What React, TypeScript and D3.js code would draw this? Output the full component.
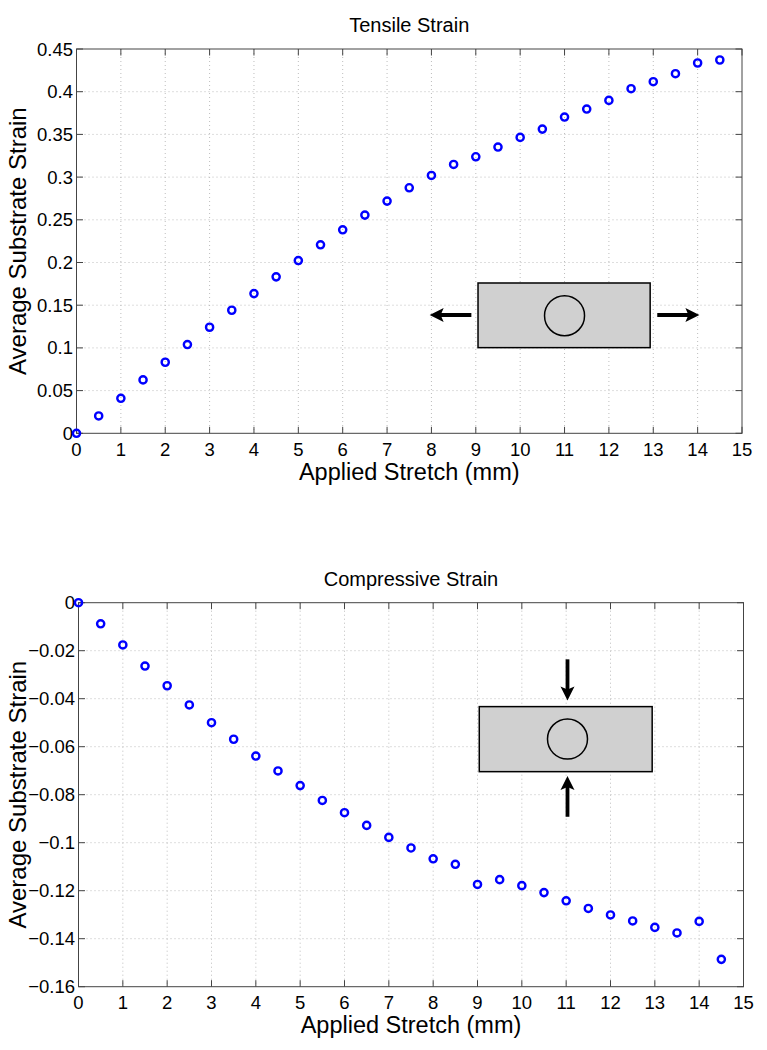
import React from 'react';
import * as d3 from 'd3';

const stretchMm = [0, 0.5, 1, 1.5, 2, 2.5, 3, 3.5, 4, 4.5, 5, 5.5, 6, 6.5, 7, 7.5, 8, 8.5, 9, 9.5, 10, 10.5, 11, 11.5, 12, 12.5, 13, 13.5, 14, 14.5];
const tensileStrain = [0, 0.0203, 0.041, 0.0625, 0.0832, 0.1039, 0.1242, 0.1441, 0.1636, 0.1832, 0.2023, 0.2207, 0.2383, 0.2555, 0.2719, 0.2875, 0.3019, 0.3148, 0.3238, 0.3352, 0.3465, 0.3562, 0.3703, 0.3797, 0.3898, 0.4035, 0.4117, 0.4211, 0.4336, 0.4371];
const compressiveStrain = [0, -0.0088, -0.0176, -0.0264, -0.0346, -0.0426, -0.05, -0.0569, -0.0639, -0.0701, -0.0762, -0.0824, -0.0875, -0.0928, -0.0978, -0.1022, -0.1067, -0.109, -0.1174, -0.1154, -0.1179, -0.1208, -0.1242, -0.1274, -0.1301, -0.1326, -0.1353, -0.1376, -0.1328, -0.1486];

const xTicks = [0, 1, 2, 3, 4, 5, 6, 7, 8, 9, 10, 11, 12, 13, 14, 15];
const tensileTicks = [0, 0.05, 0.1, 0.15, 0.2, 0.25, 0.3, 0.35, 0.4, 0.45];
const tensileTickLabels = ['0', '0.05', '0.1', '0.15', '0.2', '0.25', '0.3', '0.35', '0.4', '0.45'];
const compressiveTicks = [0, -0.02, -0.04, -0.06, -0.08, -0.1, -0.12, -0.14, -0.16];
const compressiveTickLabels = ['0', '\u22120.02', '\u22120.04', '\u22120.06', '\u22120.08', '\u22120.1', '\u22120.12', '\u22120.14', '\u22120.16'];

const FONT = '"Liberation Sans", Arial, Helvetica, sans-serif';
const AXIS = '#444';
const GRID = '#bdbdbd';
const TICK = 6.5;

type Inset = {
  rect: [number, number, number, number]; // x0, x1, yTop, yBottom (data)
  circle: [number, number]; // cx, cy (data)
  arrows: [number, number, number, number][]; // from (x,y) to (x,y) in data
};

const tensileInset: Inset = {
  rect: [9.05, 12.93, 0.176, 0.1003],
  circle: [11, 0.1377],
  arrows: [
    [8.9, 0.1385, 7.96, 0.1385],
    [13.09, 0.1385, 14.04, 0.1385],
  ],
};

const compressiveInset: Inset = {
  rect: [9.04, 12.94, -0.0433, -0.0704],
  circle: [11.03, -0.0568],
  arrows: [
    [11.03, -0.0236, 11.03, -0.0408],
    [11.03, -0.0892, 11.03, -0.0722],
  ],
};

function Arrow({ x1, y1, x2, y2 }: { x1: number; y1: number; x2: number; y2: number }) {
  const ang = Math.atan2(y2 - y1, x2 - x1);
  const len = Math.hypot(x2 - x1, y2 - y1);
  const headL = 14;
  const headW = 7;
  const notch = 3;
  const pts = [
    [len, 0],
    [len - headL, -headW],
    [len - headL + notch, 0],
    [len - headL, headW],
  ];
  const deg = (ang * 180) / Math.PI;
  return (
    <g transform={`translate(${x1},${y1}) rotate(${deg})`}>
      <line x1={0} y1={0} x2={len - headL + notch + 1} y2={0} stroke="#000" strokeWidth={3.8} />
      <polygon points={pts.map((p) => p.join(',')).join(' ')} fill="#000" />
    </g>
  );
}

type PanelProps = {
  left: number;
  right: number;
  top: number;
  bottom: number;
  yDomain: [number, number];
  yTicks: number[];
  yTickLabels: string[];
  values: number[];
  title: string;
  inset: Inset;
};

function Panel({ left, right, top, bottom, yDomain, yTicks, yTickLabels, values, title, inset }: PanelProps) {
  const x = d3.scaleLinear().domain([0, 15]).range([left, right]);
  const y = d3.scaleLinear().domain(yDomain).range([bottom, top]);
  const midX = (left + right) / 2;
  const midY = (top + bottom) / 2;
  return (
    <g fontFamily={FONT} fill="#000">
      {/* grid */}
      {xTicks.slice(1, -1).map((t) => (
        <line key={'gx' + t} x1={x(t)} x2={x(t)} y1={top} y2={bottom} stroke={GRID} strokeWidth={1} strokeDasharray="1,3" />
      ))}
      {yTicks.slice(1, -1).map((t) => (
        <line key={'gy' + t} x1={left} x2={right} y1={y(t)} y2={y(t)} stroke={GRID} strokeWidth={1} strokeDasharray="1,3" />
      ))}
      {/* inset illustration */}
      <rect
        x={x(inset.rect[0])}
        y={y(inset.rect[2])}
        width={x(inset.rect[1]) - x(inset.rect[0])}
        height={y(inset.rect[3]) - y(inset.rect[2])}
        fill="#d0d0d0"
        stroke="#000"
        strokeWidth={1.5}
      />
      <circle cx={x(inset.circle[0])} cy={y(inset.circle[1])} r={20} fill="none" stroke="#000" strokeWidth={1.5} />
      {inset.arrows.map((a, i) => (
        <Arrow key={i} x1={x(a[0])} y1={y(a[1])} x2={x(a[2])} y2={y(a[3])} />
      ))}
      {/* box */}
      <rect x={left} y={top} width={right - left} height={bottom - top} fill="none" stroke={AXIS} strokeWidth={1} />
      {/* ticks */}
      {xTicks.map((t) => (
        <g key={'tx' + t}>
          <line x1={x(t)} x2={x(t)} y1={bottom} y2={bottom - TICK} stroke={AXIS} />
          <line x1={x(t)} x2={x(t)} y1={top} y2={top + TICK} stroke={AXIS} />
          <text x={x(t)} y={bottom + 22.5} textAnchor="middle" fontSize={18.5}>
            {t}
          </text>
        </g>
      ))}
      {yTicks.map((t, i) => (
        <g key={'ty' + t}>
          <line x1={left} x2={left + TICK} y1={y(t)} y2={y(t)} stroke={AXIS} />
          <line x1={right} x2={right - TICK} y1={y(t)} y2={y(t)} stroke={AXIS} />
          <text x={left - 3.5} y={y(t) + 6.5} textAnchor="end" fontSize={18.5}>
            {yTickLabels[i]}
          </text>
        </g>
      ))}
      {/* data */}
      {stretchMm.map((s, i) => (
        <circle key={'p' + i} cx={x(s)} cy={y(values[i])} r={3.6} fill="none" stroke="#0000ff" strokeWidth={2.4} />
      ))}
      {/* labels */}
      <text x={midX} y={top - 17} textAnchor="middle" fontSize={20}>
        {title}
      </text>
      <text x={midX} y={bottom + 46.5} textAnchor="middle" fontSize={23.5}>
        Applied Stretch (mm)
      </text>
      <text transform={`translate(26,${midY}) rotate(-90)`} textAnchor="middle" fontSize={24}>
        Average Substrate Strain
      </text>
    </g>
  );
}

export default function App() {
  return (
    <svg
      width={767}
      height={1050}
      viewBox="0 0 767 1050"
      style={{ position: 'absolute', left: 0, top: 0, background: '#fff' }}
    >
      <rect x={0} y={0} width={767} height={1050} fill="#fff" />
      <Panel
        left={76.5}
        right={742}
        top={49}
        bottom={433.3}
        yDomain={[0, 0.45]}
        yTicks={tensileTicks}
        yTickLabels={tensileTickLabels}
        values={tensileStrain}
        title="Tensile Strain"
        inset={tensileInset}
      />
      <Panel
        left={78.5}
        right={743.5}
        top={602.7}
        bottom={986.7}
        yDomain={[-0.16, 0]}
        yTicks={compressiveTicks}
        yTickLabels={compressiveTickLabels}
        values={compressiveStrain}
        title="Compressive Strain"
        inset={compressiveInset}
      />
    </svg>
  );
}
